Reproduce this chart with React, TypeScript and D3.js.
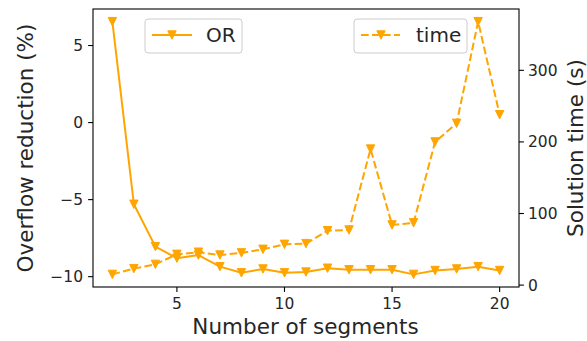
import React from "react";
import * as d3 from "d3";

// number of segments on x
const segments = [2, 3, 4, 5, 6, 7, 8, 9, 10, 11, 12, 13, 14, 15, 16, 17, 18, 19, 20];
// overflow reduction (%)
const orValues = [6.55, -5.3, -8.05, -8.8, -8.6, -9.35, -9.75, -9.5, -9.75, -9.7, -9.45, -9.55, -9.55, -9.55, -9.85, -9.6, -9.5, -9.35, -9.6];
// solution time (s)
const timeValues = [15, 23, 29, 43, 46, 42, 45, 50, 57, 58, 76, 77, 190, 84, 87, 200, 226, 368, 238];

const xTicks = [5, 10, 15, 20];
const leftTicks = [5, 0, -5, -10];
const rightTicks = [0, 100, 200, 300];

const W = 587;
const H = 341;
const M = { left: 93, right: 519, top: 9, bottom: 287 };
const ORANGE = "#ffa500";
const FONT = "DejaVu Sans";

function pad(lo: number, hi: number) {
  const r = (hi - lo) * 0.05;
  return [lo - r, hi + r];
}

function Marker({ x, y }: { x: number; y: number }) {
  const s = 4.2;
  return (
    <path
      d={`M${x - s},${y - s}L${x + s},${y - s}L${x},${y + s}Z`}
      fill={ORANGE}
      stroke={ORANGE}
      strokeWidth={1}
    />
  );
}

export default function App() {
  const x = d3.scaleLinear().domain(pad(2, 20)).range([M.left, M.right]);
  const yL = d3
    .scaleLinear()
    .domain(pad(d3.min(orValues)!, d3.max(orValues)!))
    .range([M.bottom, M.top]);
  const yR = d3
    .scaleLinear()
    .domain(pad(d3.min(timeValues)!, d3.max(timeValues)!))
    .range([M.bottom, M.top]);

  const lineOR = d3
    .line<number>()
    .x((_, i) => x(segments[i]))
    .y((d) => yL(d));
  const lineTime = d3
    .line<number>()
    .x((_, i) => x(segments[i]))
    .y((d) => yR(d));

  const tickLen = 4.9;
  const tickFont = 15.5;
  const labelFont = 21.5;

  return (
    <div style={{ position: "fixed", left: 0, top: 0 }}>
      <svg width={W} height={H} fontFamily={FONT} style={{ display: "block", background: "white" }}>
        {/* lines */}
        <path d={lineOR(orValues)!} fill="none" stroke={ORANGE} strokeWidth={2} strokeLinejoin="round" />
        <path
          d={lineTime(timeValues)!}
          fill="none"
          stroke={ORANGE}
          strokeWidth={2}
          strokeDasharray="7.7 3.3"
        />
        {orValues.map((v, i) => (
          <Marker key={"o" + i} x={x(segments[i])} y={yL(v)} />
        ))}
        {timeValues.map((v, i) => (
          <Marker key={"t" + i} x={x(segments[i])} y={yR(v)} />
        ))}

        {/* frame */}
        <rect
          x={M.left}
          y={M.top}
          width={M.right - M.left}
          height={M.bottom - M.top}
          fill="none"
          stroke="#000"
          strokeWidth={1.1}
        />

        {/* x axis */}
        {xTicks.map((t) => (
          <g key={"x" + t}>
            <line x1={x(t)} x2={x(t)} y1={M.bottom} y2={M.bottom + tickLen} stroke="#000" strokeWidth={1.1} />
            <text x={x(t)} y={M.bottom + 22} textAnchor="middle" fontSize={tickFont} fill="#262626">
              {t}
            </text>
          </g>
        ))}
        <text x={(M.left + M.right) / 2 - 0.5} y={334} textAnchor="middle" fontSize={labelFont} fill="#262626">
          Number of segments
        </text>

        {/* left axis */}
        {leftTicks.map((t) => (
          <g key={"l" + t}>
            <line x1={M.left - tickLen} x2={M.left} y1={yL(t)} y2={yL(t)} stroke="#000" strokeWidth={1.1} />
            <text x={M.left - 10} y={yL(t)} dy="0.36em" textAnchor="end" fontSize={tickFont} fill="#262626">
              {t < 0 ? "\u2212" + Math.abs(t) : t}
            </text>
          </g>
        ))}
        <text
          transform={`translate(33,${(M.top + M.bottom) / 2}) rotate(-90)`}
          textAnchor="middle"
          fontSize={labelFont}
          fill="#262626"
        >
          Overflow reduction (%)
        </text>

        {/* right axis */}
        {rightTicks.map((t) => (
          <g key={"r" + t}>
            <line x1={M.right} x2={M.right + tickLen} y1={yR(t)} y2={yR(t)} stroke="#000" strokeWidth={1.1} />
            <text x={M.right + 9} y={yR(t)} dy="0.36em" textAnchor="start" fontSize={tickFont} fill="#262626">
              {t}
            </text>
          </g>
        ))}
        <text
          transform={`translate(583,${(M.top + M.bottom) / 2}) rotate(-90)`}
          textAnchor="middle"
          fontSize={labelFont}
          fill="#262626"
        >
          Solution time (s)
        </text>

        {/* legends */}
        <g>
          <rect x={145} y={19} width={97} height={34} rx={3} fill="white" fillOpacity={0.8} stroke="#cccccc" />
          <line x1={152} x2={192} y1={35} y2={35} stroke={ORANGE} strokeWidth={2} />
          <Marker x={172} y={35} />
          <text x={206} y={35} dy="0.36em" fontSize={20} fill="#262626">
            OR
          </text>
        </g>
        <g>
          <rect x={354} y={19} width={113} height={34} rx={3} fill="white" fillOpacity={0.8} stroke="#cccccc" />
          <line x1={361} x2={400} y1={35} y2={35} stroke={ORANGE} strokeWidth={2} strokeDasharray="7.7 3.3" />
          <Marker x={381} y={35} />
          <text x={416} y={35} dy="0.36em" fontSize={20} fill="#262626">
            time
          </text>
        </g>
      </svg>
    </div>
  );
}
